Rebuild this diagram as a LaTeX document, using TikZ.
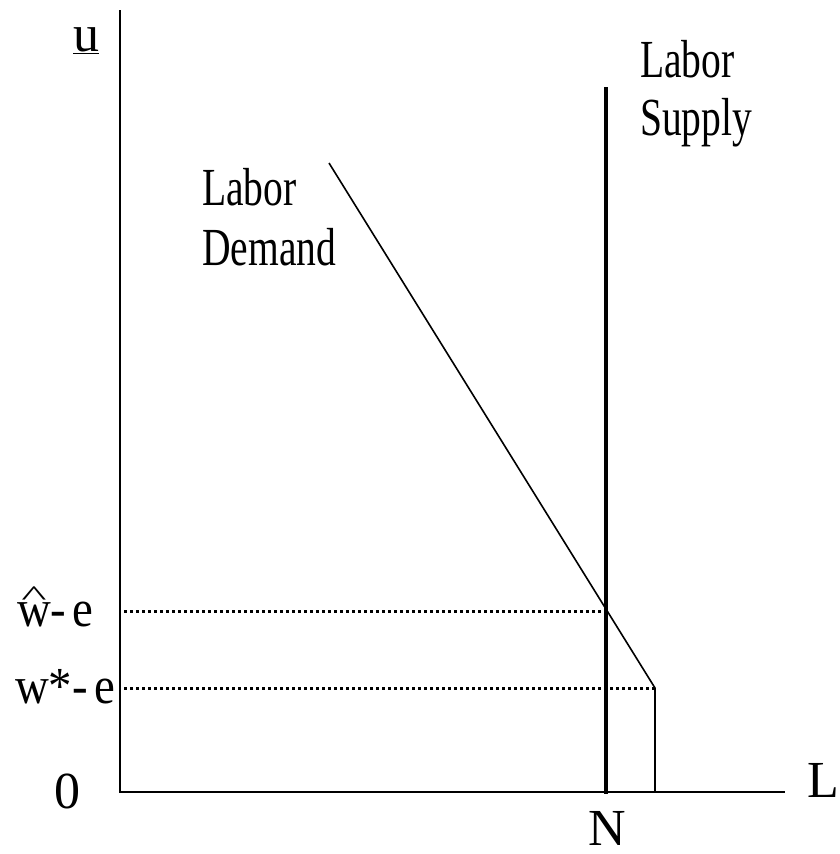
\documentclass[tikz,border=0pt]{standalone}
\usepackage{fontspec}
\setmainfont{Liberation Serif}
\newcommand{\condtxt}[1]{\scalebox{0.76}[1.03]{#1}}
\newcommand{\ytxt}[1]{\scalebox{0.9}[1]{#1}}
\newcommand{\hatw}{\ooalign{w\cr\hidewidth\raisebox{21pt}{\scalebox{1.15}[0.55]{\symbol{94}}}\hidewidth\cr}}
\begin{document}
\begin{tikzpicture}[x=1pt,y=-1pt,
  lbl/.style={inner sep=0pt, font=\fontsize{52}{60}\selectfont},
  axis/.style={line width=2.2pt},
  supplyline/.style={line width=3.4pt},
  demandline/.style={line width=1.6pt},
  guide/.style={line width=3pt, dash pattern=on 2.6pt off 3.4pt}]
\useasboundingbox (0,0) rectangle (839,854);
% coordinates
\coordinate (ytop) at (120,10);
\coordinate (O) at (120,792);
\coordinate (xend) at (785,792);
\coordinate (Stop) at (606,87);
\coordinate (Sbot) at (606,794);
\coordinate (Dtop) at (329,163);
\coordinate (Dkink) at (655,688);
\coordinate (Dbot) at (655,792);
\coordinate (hatL) at (124,611);
\coordinate (E) at (606,611);
\coordinate (starL) at (124,688);
% axes
\draw[axis] (ytop) -- (O) -- (xend);
% guides
\draw[guide] (hatL) -- (E);
\draw[guide] (starL) -- (Dkink);
% curves
\draw[supplyline] (Stop) -- (Sbot);
\draw[demandline] (Dtop) -- (Dkink) -- (Dbot);
% labels
\node[lbl, anchor=base] (ulab) at (86,51) {\underline{u}};
\node[lbl] (zero) at (67,791) {0};
\node[lbl] (Llab) at (823,780) {L};
\node[lbl, anchor=base, text depth=0pt] (Nlab) at (607,845) {N};
\node[lbl, anchor=base west] (whatlab) at (17,626) {\ytxt{\hatw-\kern7pt e}};
\node[lbl, anchor=base west] (wstarlab) at (15,703) {\ytxt{w*-\kern7pt e}};
\node[lbl, anchor=base west] (supplylab) at (640,77) {\vtop{\baselineskip=58pt\hbox{\condtxt{Labor}}\hbox{\condtxt{Supply}}}};
\node[lbl, anchor=base west] (demandlab) at (202,205) {\vtop{\baselineskip=60pt\hbox{\condtxt{Labor}}\hbox{\condtxt{Demand}}}};
\end{tikzpicture}
\end{document}
